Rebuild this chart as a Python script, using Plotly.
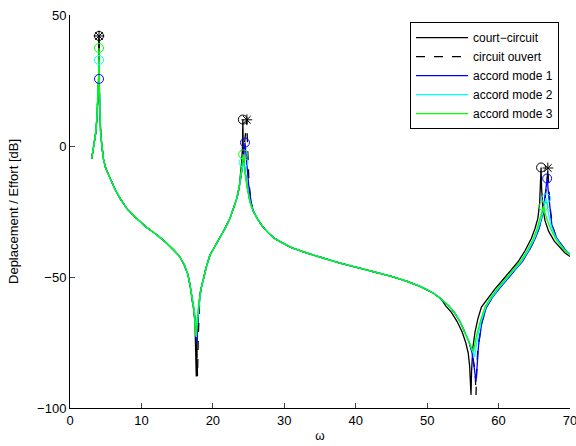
import plotly.graph_objects as go

# ---------------- data ----------------
# shared segments (all curves overlap there)
START_W = [3.04, 3.25, 3.45, 3.6, 3.75, 3.88, 3.97]
START_DB = [-4.8, -1, 2, 5, 10, 16, 21]

COMMON_A_W = [4.15, 4.2, 4.3, 4.45, 4.67, 5.0, 5.6, 6.3, 7.0, 8.0, 9.3, 10.7, 12.2, 13.5, 14.5, 15.3, 16.0, 16.5, 16.8, 17.1]
COMMON_A_DB = [15, 9, 4.5, 0.5, -4.8, -8.5, -12.4, -16.5, -20, -24, -27.6, -31, -34, -37, -39.7, -42, -45.4, -49, -53, -58]

COMMON_B_W = [18.3, 18.7, 19.1, 19.6, 20.3, 21.0, 21.7, 22.4, 22.9, 23.36, 23.7]
COMMON_B_DB = [-55, -50.5, -46, -41.6, -38.3, -35.2, -31.5, -27.6, -24, -20, -15.5]

COMMON_C_W = [25.6, 26.2, 26.9, 27.6, 28.5, 29.4, 31.0, 33.2, 35.5, 37.8, 40.0, 42.5, 45.0, 47.2, 49.0, 50.9, 52.0]
COMMON_C_DB = [-24.5, -27.6, -30.5, -32.7, -35, -36.5, -38.8, -40.9, -42.9, -44.7, -46.2, -47.9, -49.8, -51.7, -53.6, -56.2, -58.5]

# court-circuit
CC_P1_W = [4.0, 4.04, 4.06, 4.08, 4.1]
CC_P1_DB = [25, 33, 42, 33, 24]
CC_A1_W = [17.35, 17.5, 17.6, 17.68, 17.76, 17.88, 18.05]
CC_A1_DB = [-63, -68, -75, -88, -75, -66, -60]
CC_P2_W = [23.9, 24.05, 24.15, 24.2, 24.25, 24.35, 24.55, 24.8, 25.2]
CC_P2_DB = [-11, -5.5, 0, 10.1, 0, -6, -11, -15.5, -21.3]
CC_END_W = [52.6, 53.4, 54.2, 54.9, 55.4, 55.75, 55.95, 56.07, 56.14, 56.22, 56.4, 56.7, 57.1, 57.6, 58.55,
            59.5, 60.4, 61.6, 62.75, 63.7, 64.6, 65.1, 65.5, 65.75, 65.88, 65.95, 66.02, 66.2, 66.5, 67.0,
            67.8, 68.6, 69.3, 70.0]
CC_END_DB = [-61, -63.5, -67, -71, -75, -79, -84, -89, -95, -86, -77, -71, -66, -61.5, -58,
             -54.5, -51.7, -47.8, -44.1, -40, -35.2, -31.5, -27.6, -22, -16, -8.2, -16, -23.5, -28.5, -32.5,
             -36.3, -38.8, -40.8, -42.2]

# circuit ouvert
CO_P1_W = [4.0, 4.04, 4.06, 4.08, 4.1]
CO_P1_DB = [25, 33, 42, 33, 24]
CO_A1_W = [17.4, 17.6, 17.72, 17.85, 17.95, 18.1]
CO_A1_DB = [-63, -68, -74, -88, -74, -62]
CO_P2_W = [23.9, 24.15, 24.35, 24.55, 24.7, 24.76, 24.82, 24.9, 25.05, 25.3]
CO_P2_DB = [-12.5, -7, -2, 3, 6, 10, 3, -6, -14, -20]
CO_END_W = [53.0, 53.8, 54.6, 55.3, 55.9, 56.3, 56.6, 56.76, 56.84, 56.92, 57.1, 57.65, 58.3, 59.1, 60.05,
            60.95, 62.15, 63.3, 64.25, 65.15, 65.65, 66.1, 66.45, 66.7, 66.84, 66.9, 66.96, 67.1, 67.3, 67.6,
            68.1, 68.7, 69.3, 70.0]
CO_END_DB = [-61, -63.5, -67, -71, -75, -79, -84, -89, -95, -87, -77, -67.5, -61.5, -58, -54.5,
             -51.7, -47.8, -44.1, -40, -35.2, -31.5, -27, -22, -16, -11, -8.4, -12, -19, -25.5, -31,
             -35, -37.5, -39.6, -41.3]

# accord mode 1
M1_P1_W = [4.0, 4.04, 4.06, 4.08, 4.1]
M1_P1_DB = [23, 25, 25.6, 25, 22]
M1_A1_W = [17.4, 17.6, 17.7, 17.76, 17.85, 18.0]
M1_A1_DB = [-63, -68.5, -72, -75, -70, -63]
M1_P2_W = [23.9, 24.15, 24.35, 24.5, 24.62, 24.8, 25.0, 25.25]
M1_P2_DB = [-12.5, -7, -2, 1.3, -2.5, -9, -14.5, -19.5]
M1_END_W = [53.0, 53.8, 54.6, 55.3, 55.9, 56.3, 56.6, 56.76, 56.84, 56.95, 57.2, 57.65, 58.3, 59.1, 60.05,
            60.95, 62.15, 63.3, 64.25, 65.15, 65.65, 66.1, 66.4, 66.6, 66.8, 66.95, 67.15, 67.45, 68.1, 68.7,
            69.3, 70.0]
M1_END_DB = [-61, -63.5, -67, -71, -75, -79, -84, -88, -90, -85, -76, -67.5, -61.5, -58, -54.5,
             -51.7, -47.8, -44.1, -40, -35.2, -31.5, -27, -21.5, -16.5, -12.4, -17, -23.5, -30, -35, -37.5,
             -39.6, -41.3]

# accord mode 2
M2_P1_W = [4.0, 4.04, 4.06, 4.08, 4.1]
M2_P1_DB = [24.5, 30, 32.8, 30, 23.5]
M2_A1_W = [17.4, 17.58, 17.68, 17.8, 18.0]
M2_A1_DB = [-63, -69, -73, -68, -62]
M2_P2_W = [23.9, 24.1, 24.22, 24.3, 24.4, 24.55, 24.8, 25.2]
M2_P2_DB = [-11, -8.5, -7, -6.3, -7.5, -11, -15.5, -21.3]
M2_END_W = [53.0, 53.8, 54.6, 55.3, 55.85, 56.3, 56.65, 57.0, 57.55, 58.2, 59.0, 59.95, 60.85, 62.05, 63.2,
            64.15, 65.05, 65.55, 66.0, 66.3, 66.5, 66.65, 66.8, 67.0, 67.35, 68.0, 68.66, 69.3, 70.0]
M2_END_DB = [-61, -63.5, -67, -71, -74.5, -78, -80.5, -74, -67, -61.5, -58, -54.5, -51.7, -47.8, -44.1,
             -40, -35.2, -31.5, -27.6, -24.5, -21.5, -20, -22, -26, -30.5, -35, -37.6, -39.8, -41.4]

# accord mode 3
M3_P1_W = [4.0, 4.04, 4.06, 4.08, 4.1]
M3_P1_DB = [25, 32, 37.4, 32, 24]
M3_A1_W = [17.35, 17.52, 17.62, 17.75, 17.95]
M3_A1_DB = [-63, -68.5, -72.5, -68, -62]
M3_P2_W = [23.9, 24.05, 24.17, 24.25, 24.33, 24.5, 24.8, 25.2]
M3_P2_DB = [-11, -7, -4.5, -3.2, -5, -10.5, -15.5, -21.3]
M3_END_W = [53.0, 53.8, 54.6, 55.3, 55.8, 56.2, 56.5, 56.85, 57.45, 58.1, 58.85, 59.8, 60.7, 61.9, 63.05,
            64.0, 64.9, 65.4, 65.85, 66.1, 66.3, 66.5, 66.8, 67.25, 68.0, 68.66, 69.3, 70.0]
M3_END_DB = [-61, -63.5, -67, -71, -74.5, -77, -78.3, -73, -66.9, -61.5, -58, -54.5, -51.7, -47.8, -44.1,
             -40, -35.2, -31.5, -27.6, -25.3, -23, -25.5, -28.3, -31.4, -35.5, -38, -40, -41.6]

# peak markers
MARK_CC_W = [4.06, 24.2, 65.95]
MARK_CC_DB = [42, 10.1, -8.2]
MARK_CO_W = [4.06, 24.76, 66.9]
MARK_CO_DB = [42, 10, -8.4]
MARK_M1_W = [4.06, 24.5, 66.8]
MARK_M1_DB = [25.6, 1.3, -12.4]
MARK_M2_W = [4.06, 24.3, 66.65]
MARK_M2_DB = [32.8, -6.3, -20]
MARK_M3_W = [4.06, 24.25, 66.3]
MARK_M3_DB = [37.4, -3.2, -23]

X_TICKS = [0, 10, 20, 30, 40, 50, 60, 70]
Y_TICKS = [-100, -50, 0, 50]

NAMES = ["court\u2212circuit", "circuit ouvert", "accord mode 1", "accord mode 2", "accord mode 3"]
COLORS = ["#000000", "#000000", "#0000FF", "#00FFFF", "#00FF00"]


def build(p1w, p1d, a1w, a1d, p2w, p2d, endw, endd):
    w = START_W + p1w + COMMON_A_W + a1w + COMMON_B_W + p2w + COMMON_C_W + endw
    d = START_DB + p1d + COMMON_A_DB + a1d + COMMON_B_DB + p2d + COMMON_C_DB + endd
    return w, d


series = [
    build(CC_P1_W, CC_P1_DB, CC_A1_W, CC_A1_DB, CC_P2_W, CC_P2_DB, CC_END_W, CC_END_DB),
    build(CO_P1_W, CO_P1_DB, CO_A1_W, CO_A1_DB, CO_P2_W, CO_P2_DB, CO_END_W, CO_END_DB),
    build(M1_P1_W, M1_P1_DB, M1_A1_W, M1_A1_DB, M1_P2_W, M1_P2_DB, M1_END_W, M1_END_DB),
    build(M2_P1_W, M2_P1_DB, M2_A1_W, M2_A1_DB, M2_P2_W, M2_P2_DB, M2_END_W, M2_END_DB),
    build(M3_P1_W, M3_P1_DB, M3_A1_W, M3_A1_DB, M3_P2_W, M3_P2_DB, M3_END_W, M3_END_DB),
]
DASHES = ["solid", "dash", "solid", "solid", "solid"]

fig = go.Figure()
for (w, d), name, col, dash in zip(series, NAMES, COLORS, DASHES):
    fig.add_trace(go.Scatter(x=w, y=d, mode="lines", name=name,
                             line=dict(color=col, width=1.3, dash=dash)))

markers = [
    (MARK_CC_W, MARK_CC_DB, "#000000", "circle-open"),
    (MARK_CO_W, MARK_CO_DB, "#000000", "asterisk-open"),
    (MARK_M1_W, MARK_M1_DB, "#0000FF", "circle-open"),
    (MARK_M2_W, MARK_M2_DB, "#00FFFF", "circle-open"),
    (MARK_M3_W, MARK_M3_DB, "#00FF00", "circle-open"),
]
for w, d, col, sym in markers:
    fig.add_trace(go.Scatter(x=w, y=d, mode="markers", showlegend=False,
                             marker=dict(symbol=sym, size=9, color=col,
                                         line=dict(color=col, width=1))))

FONT = "Liberation Sans, Arial, sans-serif"
fig.update_layout(
    width=576, height=446,
    margin=dict(l=70, r=6, t=15, b=38),
    paper_bgcolor="white", plot_bgcolor="white",
    font=dict(family=FONT, size=13, color="black"),
    showlegend=True,
    legend=dict(x=0.978, y=0.982, xanchor="right", yanchor="top",
                bgcolor="white", bordercolor="black", borderwidth=1,
                font=dict(size=12), itemwidth=52, tracegroupgap=0),
    xaxis=dict(range=[0, 70], tickvals=X_TICKS, ticks="inside", ticklen=5,
               showline=True, linecolor="black", linewidth=1, showgrid=False,
               zeroline=False, automargin=False, tickfont=dict(size=13),
               ticklabeloverflow="allow",
               title=dict(text="\u03c9", standoff=5, font=dict(size=12))),
    yaxis=dict(range=[-100, 50], tickvals=Y_TICKS, ticks="inside", ticklen=5,
               showline=True, linecolor="black", linewidth=1, showgrid=False,
               zeroline=False, automargin=False, tickfont=dict(size=13),
               title=dict(text="Deplacement / Effort [dB]", standoff=15, font=dict(size=13))),
)

fig.write_html("out.html", config={"displayModeBar": False},
               post_script="document.body.style.margin='0';document.body.style.overflow='hidden';")
